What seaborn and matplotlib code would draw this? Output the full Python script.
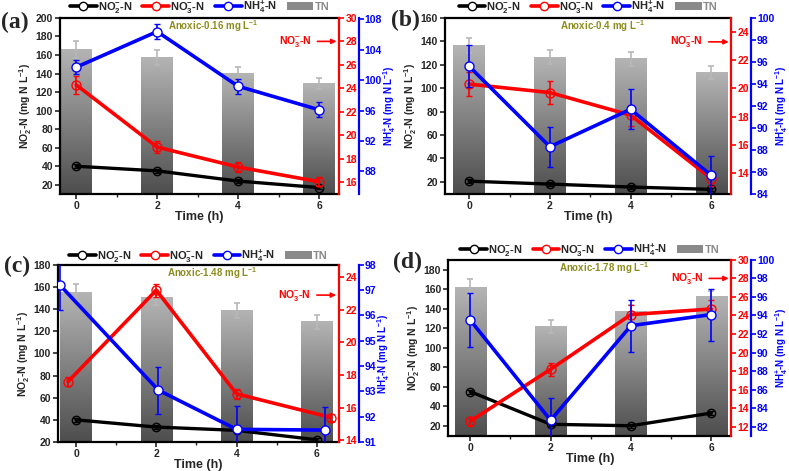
import numpy as np
import matplotlib
matplotlib.use('Agg')
import matplotlib.pyplot as plt
from matplotlib.colors import LinearSegmentedColormap
from matplotlib.lines import Line2D
from matplotlib.patches import Patch
from matplotlib.ticker import MultipleLocator
import seaborn as sns

time = [0, 2, 4, 6]

# (a) Anoxic-0.16
a_tn = [166, 157, 140, 129]
a_tn_err = [9, 8, 7, 6]
a_no2 = [40, 35, 24, 17]
a_no2_err = [2, 2, 2, 2]
a_no3 = [24.3, 19.0, 17.3, 16.05]
a_no3_err = [0.75, 0.5, 0.45, 0.4]
a_nh4 = [101.7, 106.4, 99.2, 96.1]
a_nh4_err = [0.9, 1.0, 1.0, 1.0]

# (b) Anoxic-0.4
b_tn = [136.5, 126.5, 125, 113]
b_tn_err = [6.5, 6, 6, 5.5]
b_no2 = [20.5, 18, 15.5, 13.5]
b_no2_err = [1.5, 1.5, 1.5, 1.5]
b_no3 = [20.3, 19.7, 18.1, 13.6]
b_no3_err = [0.85, 0.8, 0.75, 0.5]
b_nh4 = [95.6, 88.3, 91.7, 85.7]
b_nh4_err = [1.9, 1.8, 1.8, 1.8]

# (c) Anoxic-1.48
c_tn = [155, 150.5, 139, 128.5]
c_tn_err = [7.5, 7, 7, 6.5]
c_no2 = [40, 33.5, 30.5, 22]
c_no2_err = [2, 1.5, 1.5, 1.5]
c_no3_t = [-0.2, 2.0, 4.0, 6.35]
c_no3 = [17.6, 23.2, 16.85, 15.4]
c_no3_err = [0.28, 0.4, 0.3, 0.2]
c_nh4_t = [-0.4, 2.05, 4.0, 6.2]
c_nh4 = [97.2, 93.05, 91.5, 91.47]
c_nh4_err = [1.0, 0.93, 0.93, 0.9]

# (d) Anoxic-1.78
d_tn = [161.5, 122, 137.5, 152]
d_tn_err = [9, 6.5, 6, 6]
d_no2 = [55, 21.5, 20, 33]
d_no2_err = [2, 2, 2, 2]
d_no3 = [12.6, 18.2, 24.1, 24.7]
d_no3_err = [0.5, 0.7, 1.0, 0.95]
d_nh4 = [93.5, 82.7, 92.9, 94.1]
d_nh4_err = [2.9, 2.4, 2.8, 2.8]

titulos = ['Anoxic-0.16 mg L$^{-1}$', 'Anoxic-0.4 mg L$^{-1}$',
           'Anoxic-1.48 mg L$^{-1}$', 'Anoxic-1.78 mg L$^{-1}$']
rotulos = ['(a)', '(b)', '(c)', '(d)']

sns.set_style('ticks')
plt.rcParams['font.family'] = ['Liberation Sans', 'DejaVu Sans']
plt.rcParams['font.weight'] = 'bold'
plt.rcParams['axes.labelweight'] = 'bold'
plt.rcParams['mathtext.fontset'] = 'custom'
plt.rcParams['mathtext.rm'] = 'Liberation Sans:bold'
plt.rcParams['mathtext.it'] = 'Liberation Sans:bold'
plt.rcParams['mathtext.bf'] = 'Liberation Sans:bold'
plt.rcParams['mathtext.default'] = 'rm'

cmap_tn = LinearSegmentedColormap.from_list('tn', ['#4e4e4e', '#b4b4b4'])
grad = np.linspace(0, 1, 200).reshape(-1, 1)

paineis = [
    dict(tn=a_tn, tn_err=a_tn_err, no2=a_no2, no2_err=a_no2_err,
         no3_t=time, no3=a_no3, no3_err=a_no3_err, nh4_t=time, nh4=a_nh4, nh4_err=a_nh4_err,
         rect=[0.076, 0.588, 0.354, 0.374], xlim=(-0.4, 6.5),
         ylim=(10, 200), yticks=range(20, 201, 20),
         ylim2=(15, 30), yticks2=range(16, 31, 2),
         ylim3=(85, 108.2), yticks3=range(88, 109, 4), seta=28,
         leg_y=1.062, rot_xy=(0.019, 0.952)),
    dict(tn=b_tn, tn_err=b_tn_err, no2=b_no2, no2_err=b_no2_err,
         no3_t=time, no3=b_no3, no3_err=b_no3_err, nh4_t=time, nh4=b_nh4, nh4_err=b_nh4_err,
         rect=[0.564, 0.588, 0.363, 0.374], xlim=(-0.6, 6.5),
         ylim=(9.5, 160), yticks=range(20, 161, 20),
         ylim2=(12.5, 25), yticks2=range(14, 25, 2),
         ylim3=(84, 100), yticks3=range(84, 101, 2), seta=23.3,
         leg_y=1.062, rot_xy=(0.514, 0.956)),
    dict(tn=c_tn, tn_err=c_tn_err, no2=c_no2, no2_err=c_no2_err,
         no3_t=c_no3_t, no3=c_no3, no3_err=c_no3_err, nh4_t=c_nh4_t, nh4=c_nh4, nh4_err=c_nh4_err,
         rect=[0.0735, 0.0616, 0.356, 0.376], xlim=(-0.45, 6.55),
         ylim=(20, 180), yticks=range(20, 181, 20),
         ylim2=(13.9, 24.75), yticks2=range(14, 25, 2),
         ylim3=(91, 98), yticks3=range(91, 99, 1), seta=22.9,
         leg_y=1.05, rot_xy=(0.021, 0.434)),
    dict(tn=d_tn, tn_err=d_tn_err, no2=d_no2, no2_err=d_no2_err,
         no3_t=time, no3=d_no3, no3_err=d_no3_err, nh4_t=time, nh4=d_nh4, nh4_err=d_nh4_err,
         rect=[0.568, 0.0743, 0.359, 0.374], xlim=(-0.55, 6.5),
         ylim=(9.5, 190), yticks=range(20, 181, 20),
         ylim2=(11, 30), yticks2=range(12, 31, 2),
         ylim3=(81, 100), yticks3=range(82, 101, 2), seta=28,
         leg_y=1.057, rot_xy=(0.517, 0.443)),
]


def desenhar_painel(fig, p, titulo, rotulo):
    ax = fig.add_axes(p['rect'])
    sns.barplot(x=time, y=p['tn'], native_scale=True, width=0.39, color='#888888',
                errorbar=None, ax=ax, zorder=1)
    # gradiente vertical nas barras de TN
    for bar in list(ax.patches):
        x0, w, h = bar.get_x(), bar.get_width(), bar.get_height()
        ax.imshow(grad, extent=[x0, x0 + w, p['ylim'][0], h], origin='lower',
                  aspect='auto', cmap=cmap_tn, zorder=1)
        bar.set_visible(False)
    ax.errorbar(time, p['tn'], yerr=p['tn_err'], fmt='none', ecolor='#b8b8b8',
                elinewidth=1.2, capsize=2.5, capthick=1.2, zorder=2)
    ax.errorbar(time, p['no2'], yerr=p['no2_err'], fmt='-o', color='black', lw=2.4,
                ms=6, mfc='none', mew=1, capsize=2, elinewidth=1, zorder=3)

    ax2 = ax.twinx()
    ax2.errorbar(p['no3_t'], p['no3'], yerr=p['no3_err'], fmt='-o', color='red', lw=2.6,
                 ms=6.5, mfc='none', mew=1, capsize=2, elinewidth=1.2, zorder=3)
    ax3 = ax.twinx()
    ax3.errorbar(p['nh4_t'], p['nh4'], yerr=p['nh4_err'], fmt='-o', color='blue', lw=2.6,
                 ms=6.5, mfc='white', mew=1, capsize=2, elinewidth=1.2, zorder=3)

    ax.set_xlim(*p['xlim'])
    ax.set_ylim(*p['ylim'])
    ax.set_yticks(list(p['yticks']))
    ax.set_xticks(time)
    ax.set_xticklabels([str(t) for t in time])
    ax.xaxis.set_minor_locator(MultipleLocator(1))
    ax2.set_ylim(*p['ylim2'])
    ax2.set_yticks(list(p['yticks2']))
    ax3.set_ylim(*p['ylim3'])
    ax3.set_yticks(list(p['yticks3']))

    for s in ['top', 'left', 'bottom']:
        ax.spines[s].set_linewidth(1.6)
        ax.spines[s].set_color('black')
        ax2.spines[s].set_visible(False)
        ax3.spines[s].set_visible(False)
    ax.spines['right'].set_visible(False)
    ax2.spines['right'].set_color('red')
    ax2.spines['right'].set_linewidth(1.6)
    ax3.spines['right'].set_color('blue')
    ax3.spines['right'].set_linewidth(1.6)
    ax3.spines['right'].set_position(('outward', 14.4))

    ax.tick_params(which='major', direction='out', length=3.5, width=1.2, labelsize=7.5, pad=1.5)
    ax.tick_params(which='minor', direction='out', length=2, width=1.0)
    ax.tick_params(axis='y', which='minor', left=False)
    ax2.tick_params(axis='y', colors='red', direction='out', length=3.5, width=1.2,
                    labelsize=7.5, pad=1)
    ax3.tick_params(axis='y', colors='blue', direction='out', length=3.5, width=1.2,
                    labelsize=7.5, pad=0.5)

    ax.set_xlabel('Time (h)', fontsize=9, labelpad=0)
    ax.set_ylabel(r'NO$_2^{-}$-N (mg N L$^{-1}$)', fontsize=7.5, labelpad=1)
    ax3.set_ylabel(r'NH$_4^{+}$-N (mg N L$^{-1}$)', fontsize=7, color='blue', labelpad=-0.5)

    ax.text(0.55, 0.955, titulo, transform=ax.transAxes, ha='center', va='center',
            fontsize=7, color='#8c8c1e')
    ax2.annotate(r'NO$_3^{-}$-N', xy=(1.0, p['seta']), xycoords=('axes fraction', 'data'),
                 xytext=(0.9, p['seta']), textcoords=('axes fraction', 'data'),
                 ha='right', va='center', color='red', fontsize=7.5,
                 arrowprops=dict(arrowstyle='-|>', color='red', lw=1.2, mutation_scale=7))

    handles = [
        Line2D([], [], color='black', lw=2.6, marker='o', ms=6, mfc='white', mec='black'),
        Line2D([], [], color='red', lw=2.6, marker='o', ms=6, mfc='white', mec='red'),
        Line2D([], [], color='blue', lw=2.6, marker='o', ms=6, mfc='white', mec='blue'),
        Patch(facecolor='#8a8a8a', edgecolor='none'),
    ]
    labels = [r'NO$_2^{-}$-N', r'NO$_3^{-}$-N', r'NH$_4^{+}$-N', 'TN']
    leg = ax.legend(handles, labels, loc='center', bbox_to_anchor=(0.5, p['leg_y']),
                    ncol=4, frameon=False, fontsize=8, handlelength=2.4,
                    handletextpad=0.1, columnspacing=0.9, borderpad=0)
    leg.get_texts()[3].set_color('#8a8a8a')

    fig.text(p['rot_xy'][0], p['rot_xy'][1], rotulo, ha='center', va='center',
             fontsize=17, family='Liberation Serif', weight='bold')


fig = plt.figure(figsize=(7.89, 4.71), dpi=100)
for p, titulo, rotulo in zip(paineis, titulos, rotulos):
    desenhar_painel(fig, p, titulo, rotulo)

plt.savefig('out.png', dpi=100)
plt.close()
